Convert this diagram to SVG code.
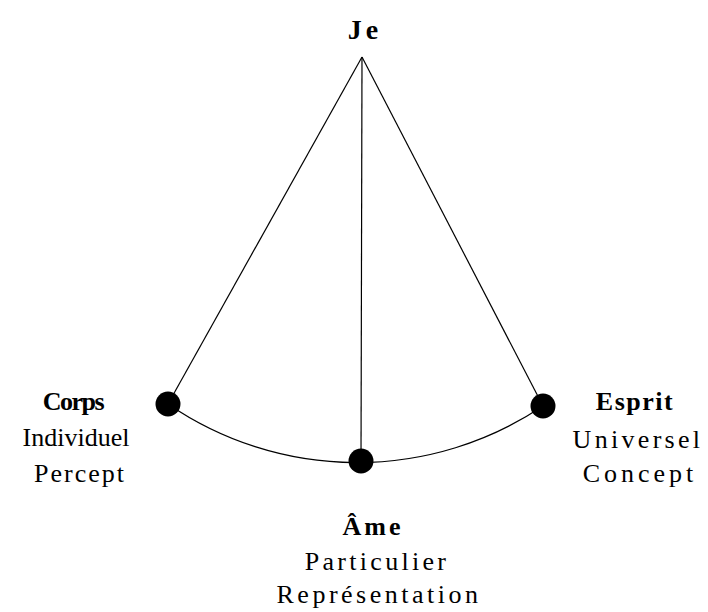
<svg xmlns="http://www.w3.org/2000/svg" width="708" height="612" viewBox="0 0 708 612">
<style>
.ln{fill:none;stroke:#000;stroke-width:1.2}
.dot{fill:#000}
.t{font-size:26px;fill:#000;text-anchor:middle}
.b{font-weight:bold}
</style>
<rect width="708" height="612" fill="#fff"/>
<g id="connectors">
<line class="ln" x1="362" y1="57" x2="168" y2="404"/>
<line class="ln" x1="362" y1="57" x2="543" y2="406"/>
<line class="ln" x1="362" y1="57" x2="361" y2="461"/>
<path class="ln" d="M168,404 A334,334 0 0 0 543,406"/>
</g>
<g font-family="'Liberation Serif', 'DejaVu Serif', serif">
<g id="je"><text class="t b" x="365" y="39" style="font-size:28px;letter-spacing:4px">Je</text></g>
<g id="corps">
<circle class="dot" cx="168" cy="404" r="12.5"/>
<text class="t b" x="73" y="410" style="letter-spacing:-1.5px">Corps</text>
<text class="t" x="76" y="446">Individuel</text>
<text class="t" x="80" y="482" style="letter-spacing:2px">Percept</text>
</g>
<g id="esprit">
<circle class="dot" cx="543" cy="406" r="12.5"/>
<text class="t b" x="635" y="410" style="letter-spacing:1.5px">Esprit</text>
<text class="t" x="638" y="448" style="letter-spacing:3.3px">Universel</text>
<text class="t" x="640" y="482" style="letter-spacing:4px">Concept</text>
</g>
<g id="ame">
<circle class="dot" cx="361" cy="461" r="12.5"/>
<text class="t b" x="373" y="535" style="letter-spacing:3px">Âme</text>
<text class="t" x="377" y="570" style="letter-spacing:3.3px">Particulier</text>
<text class="t" x="379" y="603" style="letter-spacing:3.5px">Représentation</text>
</g>
</g>
</svg>
